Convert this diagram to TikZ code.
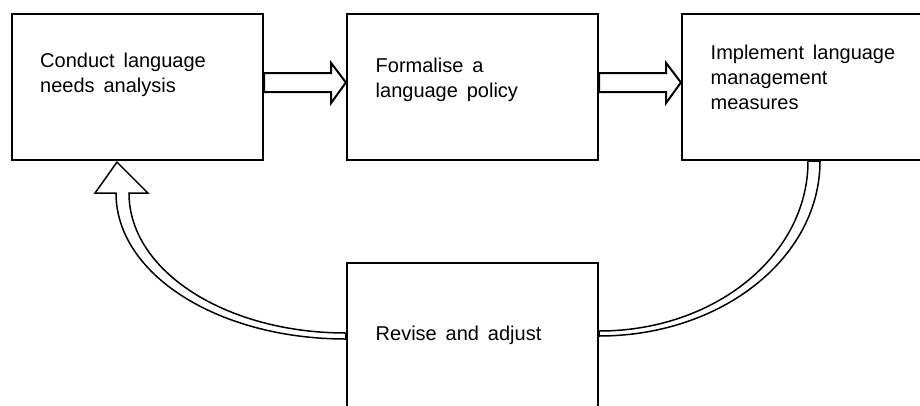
\documentclass[tikz,border=0pt]{standalone}
\usepackage{fontspec}
\setmainfont{Liberation Sans}[WordSpace=1.6]
\usetikzlibrary{calc,backgrounds}

\tikzset{
  stepbox/.style={draw, fill=white, line width=2.2pt, minimum width=251pt, minimum height=146pt, inner sep=0pt},
  boxtext/.style={anchor=base west, align=left, inner sep=0pt, font=\fontsize{20}{24.6}\selectfont},
  blockarr/.style={draw, fill=white, line width=2pt, line join=miter},
  curvearr/.style={draw, fill=white, line width=1.5pt, line join=miter}
}

\begin{document}
\begin{tikzpicture}[x=1pt, y=-1pt]
  \path[use as bounding box, clip] (0,0) rectangle (920,405);

  % Nodes
  \node[stepbox] (needs) at (137.5,87) {};
  \node[stepbox] (policy) at (472.5,87) {};
  \node[stepbox] (measures) at (807.5,87) {};
  \node[stepbox] (revise) at (472.5,336) {};

  % (base = last line)
  \node[boxtext] (needsText) at (40,92.3) {Conduct language\\needs analysis};
  \node[boxtext] (policyText) at (375.5,97.5) {Formalise a\\language policy};
  \node[boxtext] (measuresText) at (710.5,109) {Implement language\\management\\measures};
  \node[boxtext] (reviseText) at (375.5,340.7) {Revise and adjust};

  % Edges
  \foreach \a/\b in {needs/policy, policy/measures}
    \draw[blockarr] ($(\a.east)+(0,-14)$) -- ++(67,0) -- ++(0,-10) -- ($(\b.west)+(0,-4.5)$)
      -- ($(\a.east)+(67,16)$) -- ++(0,-11) -- ($(\a.east)+(0,5)$) -- cycle;

  \begin{scope}[on background layer]
    % measures to revise
    \draw[curvearr] ($(measures.south)+(0.5,0)$) .. controls +(0,94) and +(116,0) .. ($(revise.east)+(0,-5)$)
      -- (revise.east) .. controls +(122,0) and +(0,97) .. ($(measures.south)+(12.5,0)$) -- cycle;
    % revise back to needs
    \coordinate (tip) at ($(needs.south)+(-20.5,1)$);
    \draw[curvearr] (tip) -- ++(31,31) -- ++(-19,0)
      .. controls +(0,78) and +(-120,0) .. ($(revise.west)+(0,-3)$)
      -- ($(revise.west)+(0,3)$)
      .. controls +(-128,0) and +(0,81) .. ($(tip)+(-1,31)$)
      -- ++(-21,0) -- cycle;
  \end{scope}
\end{tikzpicture}
\end{document}
